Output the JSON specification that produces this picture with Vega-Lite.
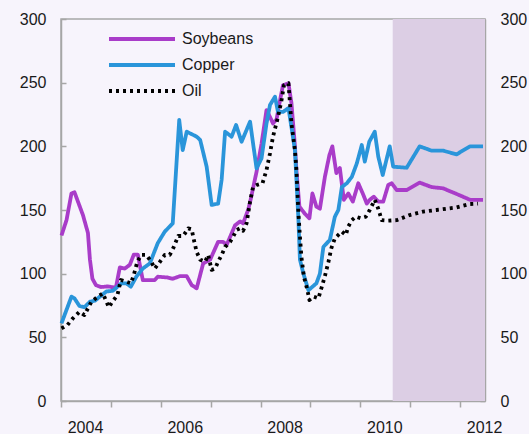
{
  "$schema": "https://vega.github.io/schema/vega-lite/v6.json",
  "width": 424,
  "height": 382,
  "autosize": {"type": "none"},
  "padding": {"left": 61, "top": 19, "right": 44, "bottom": 33},
  "background": "#F7F4FC",
  "config": {
    "font": "Liberation Sans",
    "view": {"stroke": "#A6A6A6", "strokeWidth": 1.5, "fill": "#F7F4FC"},
    "axis": {
      "grid": false,
      "domainColor": "#A6A6A6",
      "domainWidth": 1.5,
      "tickColor": "#A6A6A6",
      "tickWidth": 1.5,
      "labelFont": "Liberation Sans",
      "labelFontSize": 16,
      "labelColor": "#1a1a1a",
      "zindex": 1
    }
  },
  "datasets": {
    "shade": [{"start": 2010.65, "end": 2012.5}],
    "prices": [
      {"s":"Soybeans","t":2004.01,"v":130},{"s":"Soybeans","t":2004.11,"v":142},{"s":"Soybeans","t":2004.21,"v":163},{"s":"Soybeans","t":2004.27,"v":164},{"s":"Soybeans","t":2004.44,"v":146},{"s":"Soybeans","t":2004.54,"v":132},{"s":"Soybeans","t":2004.58,"v":111},{"s":"Soybeans","t":2004.63,"v":96},{"s":"Soybeans","t":2004.70,"v":91},{"s":"Soybeans","t":2004.80,"v":89.5},{"s":"Soybeans","t":2004.94,"v":90},{"s":"Soybeans","t":2005.10,"v":89},{"s":"Soybeans","t":2005.18,"v":105},{"s":"Soybeans","t":2005.28,"v":104},{"s":"Soybeans","t":2005.38,"v":107},{"s":"Soybeans","t":2005.46,"v":115},{"s":"Soybeans","t":2005.54,"v":115},{"s":"Soybeans","t":2005.64,"v":95},{"s":"Soybeans","t":2005.88,"v":95},{"s":"Soybeans","t":2005.94,"v":97.6},{"s":"Soybeans","t":2006.14,"v":97},{"s":"Soybeans","t":2006.24,"v":96},{"s":"Soybeans","t":2006.38,"v":98},{"s":"Soybeans","t":2006.52,"v":98},{"s":"Soybeans","t":2006.62,"v":91},{"s":"Soybeans","t":2006.72,"v":88.5},{"s":"Soybeans","t":2006.85,"v":108},{"s":"Soybeans","t":2006.99,"v":111},{"s":"Soybeans","t":2007.15,"v":125},{"s":"Soybeans","t":2007.25,"v":125},{"s":"Soybeans","t":2007.32,"v":122.5},{"s":"Soybeans","t":2007.49,"v":138},{"s":"Soybeans","t":2007.59,"v":141},{"s":"Soybeans","t":2007.65,"v":139.5},{"s":"Soybeans","t":2007.75,"v":150},{"s":"Soybeans","t":2007.79,"v":156},{"s":"Soybeans","t":2007.92,"v":180},{"s":"Soybeans","t":2008.02,"v":202},{"s":"Soybeans","t":2008.12,"v":228.5},{"s":"Soybeans","t":2008.19,"v":223},{"s":"Soybeans","t":2008.25,"v":218},{"s":"Soybeans","t":2008.32,"v":221},{"s":"Soybeans","t":2008.39,"v":236},{"s":"Soybeans","t":2008.45,"v":248},{"s":"Soybeans","t":2008.56,"v":249.5},{"s":"Soybeans","t":2008.62,"v":234},{"s":"Soybeans","t":2008.69,"v":200},{"s":"Soybeans","t":2008.72,"v":181},{"s":"Soybeans","t":2008.78,"v":152.6},{"s":"Soybeans","t":2008.89,"v":147},{"s":"Soybeans","t":2008.98,"v":143.5},{"s":"Soybeans","t":2009.04,"v":163},{"s":"Soybeans","t":2009.12,"v":152.6},{"s":"Soybeans","t":2009.19,"v":151},{"s":"Soybeans","t":2009.29,"v":176},{"s":"Soybeans","t":2009.38,"v":193},{"s":"Soybeans","t":2009.44,"v":200},{"s":"Soybeans","t":2009.52,"v":179},{"s":"Soybeans","t":2009.59,"v":183},{"s":"Soybeans","t":2009.67,"v":158},{"s":"Soybeans","t":2009.76,"v":163},{"s":"Soybeans","t":2009.85,"v":156.6},{"s":"Soybeans","t":2009.96,"v":171},{"s":"Soybeans","t":2010.06,"v":162},{"s":"Soybeans","t":2010.13,"v":155},{"s":"Soybeans","t":2010.19,"v":158},{"s":"Soybeans","t":2010.27,"v":160.5},{"s":"Soybeans","t":2010.36,"v":156.6},{"s":"Soybeans","t":2010.46,"v":156.6},{"s":"Soybeans","t":2010.56,"v":169.6},{"s":"Soybeans","t":2010.63,"v":171},{"s":"Soybeans","t":2010.73,"v":165.7},{"s":"Soybeans","t":2010.93,"v":165.7},{"s":"Soybeans","t":2011.19,"v":171.5},{"s":"Soybeans","t":2011.43,"v":168},{"s":"Soybeans","t":2011.66,"v":167},{"s":"Soybeans","t":2011.93,"v":162.6},{"s":"Soybeans","t":2012.20,"v":158},{"s":"Soybeans","t":2012.46,"v":158},
      {"s":"Copper","t":2004.01,"v":61},{"s":"Copper","t":2004.11,"v":71.5},{"s":"Copper","t":2004.21,"v":82},{"s":"Copper","t":2004.27,"v":80.6},{"s":"Copper","t":2004.37,"v":74.6},{"s":"Copper","t":2004.47,"v":73.6},{"s":"Copper","t":2004.58,"v":78},{"s":"Copper","t":2004.68,"v":78.8},{"s":"Copper","t":2004.78,"v":82},{"s":"Copper","t":2004.91,"v":86},{"s":"Copper","t":2005.04,"v":86.6},{"s":"Copper","t":2005.21,"v":92.4},{"s":"Copper","t":2005.31,"v":92.4},{"s":"Copper","t":2005.40,"v":89.8},{"s":"Copper","t":2005.51,"v":97.6},{"s":"Copper","t":2005.64,"v":104},{"s":"Copper","t":2005.78,"v":108},{"s":"Copper","t":2005.94,"v":124},{"s":"Copper","t":2006.08,"v":133},{"s":"Copper","t":2006.24,"v":139.5},{"s":"Copper","t":2006.37,"v":220.7},{"s":"Copper","t":2006.44,"v":197},{"s":"Copper","t":2006.52,"v":211.5},{"s":"Copper","t":2006.72,"v":207.6},{"s":"Copper","t":2006.79,"v":205},{"s":"Copper","t":2006.92,"v":184},{"s":"Copper","t":2007.02,"v":154},{"s":"Copper","t":2007.15,"v":155},{"s":"Copper","t":2007.22,"v":173.6},{"s":"Copper","t":2007.29,"v":211.5},{"s":"Copper","t":2007.42,"v":207.6},{"s":"Copper","t":2007.51,"v":216.8},{"s":"Copper","t":2007.62,"v":203.6},{"s":"Copper","t":2007.79,"v":219.4},{"s":"Copper","t":2007.92,"v":182.7},{"s":"Copper","t":2008.02,"v":190.6},{"s":"Copper","t":2008.12,"v":218},{"s":"Copper","t":2008.19,"v":232.5},{"s":"Copper","t":2008.29,"v":239},{"s":"Copper","t":2008.35,"v":227},{"s":"Copper","t":2008.45,"v":227},{"s":"Copper","t":2008.56,"v":230},{"s":"Copper","t":2008.62,"v":215},{"s":"Copper","t":2008.69,"v":197},{"s":"Copper","t":2008.76,"v":142},{"s":"Copper","t":2008.79,"v":111},{"s":"Copper","t":2008.86,"v":100},{"s":"Copper","t":2008.96,"v":87},{"s":"Copper","t":2009.12,"v":92.4},{"s":"Copper","t":2009.19,"v":100},{"s":"Copper","t":2009.26,"v":121},{"s":"Copper","t":2009.39,"v":126.5},{"s":"Copper","t":2009.49,"v":144.7},{"s":"Copper","t":2009.56,"v":150},{"s":"Copper","t":2009.63,"v":168},{"s":"Copper","t":2009.73,"v":171},{"s":"Copper","t":2009.83,"v":176},{"s":"Copper","t":2009.93,"v":186.6},{"s":"Copper","t":2010.03,"v":201},{"s":"Copper","t":2010.09,"v":188},{"s":"Copper","t":2010.18,"v":203.6},{"s":"Copper","t":2010.29,"v":211.5},{"s":"Copper","t":2010.36,"v":192},{"s":"Copper","t":2010.45,"v":177.5},{"s":"Copper","t":2010.59,"v":200},{"s":"Copper","t":2010.66,"v":184},{"s":"Copper","t":2010.93,"v":183.2},{"s":"Copper","t":2011.19,"v":200},{"s":"Copper","t":2011.43,"v":196.6},{"s":"Copper","t":2011.66,"v":196.6},{"s":"Copper","t":2011.93,"v":193.7},{"s":"Copper","t":2012.20,"v":200},{"s":"Copper","t":2012.46,"v":200},
      {"s":"Oil","t":2004.01,"v":57},{"s":"Oil","t":2004.13,"v":59.7},{"s":"Oil","t":2004.24,"v":65},{"s":"Oil","t":2004.37,"v":70},{"s":"Oil","t":2004.47,"v":67.5},{"s":"Oil","t":2004.61,"v":78},{"s":"Oil","t":2004.74,"v":82},{"s":"Oil","t":2004.84,"v":84.5},{"s":"Oil","t":2004.91,"v":78},{"s":"Oil","t":2004.96,"v":73.6},{"s":"Oil","t":2005.03,"v":78},{"s":"Oil","t":2005.13,"v":83},{"s":"Oil","t":2005.20,"v":95},{"s":"Oil","t":2005.31,"v":93.7},{"s":"Oil","t":2005.40,"v":92.4},{"s":"Oil","t":2005.46,"v":99},{"s":"Oil","t":2005.53,"v":109.4},{"s":"Oil","t":2005.61,"v":114.7},{"s":"Oil","t":2005.71,"v":114.7},{"s":"Oil","t":2005.81,"v":109.4},{"s":"Oil","t":2005.88,"v":104},{"s":"Oil","t":2005.97,"v":108.6},{"s":"Oil","t":2006.08,"v":114.7},{"s":"Oil","t":2006.18,"v":114.7},{"s":"Oil","t":2006.25,"v":120},{"s":"Oil","t":2006.35,"v":129.6},{"s":"Oil","t":2006.45,"v":129.6},{"s":"Oil","t":2006.55,"v":135.6},{"s":"Oil","t":2006.62,"v":134.8},{"s":"Oil","t":2006.65,"v":129},{"s":"Oil","t":2006.72,"v":117},{"s":"Oil","t":2006.79,"v":111},{"s":"Oil","t":2006.89,"v":109.4},{"s":"Oil","t":2006.95,"v":114.7},{"s":"Oil","t":2007.02,"v":103},{"s":"Oil","t":2007.09,"v":104},{"s":"Oil","t":2007.15,"v":109.4},{"s":"Oil","t":2007.22,"v":114.7},{"s":"Oil","t":2007.29,"v":121},{"s":"Oil","t":2007.39,"v":125},{"s":"Oil","t":2007.45,"v":129},{"s":"Oil","t":2007.52,"v":134.3},{"s":"Oil","t":2007.59,"v":135.6},{"s":"Oil","t":2007.65,"v":133.7},{"s":"Oil","t":2007.72,"v":139.5},{"s":"Oil","t":2007.79,"v":156.6},{"s":"Oil","t":2007.85,"v":168},{"s":"Oil","t":2007.92,"v":169.6},{"s":"Oil","t":2008.04,"v":171},{"s":"Oil","t":2008.12,"v":181.4},{"s":"Oil","t":2008.19,"v":194.5},{"s":"Oil","t":2008.25,"v":207.6},{"s":"Oil","t":2008.31,"v":216.8},{"s":"Oil","t":2008.35,"v":223},{"s":"Oil","t":2008.42,"v":236},{"s":"Oil","t":2008.47,"v":248},{"s":"Oil","t":2008.56,"v":249.5},{"s":"Oil","t":2008.59,"v":233.8},{"s":"Oil","t":2008.62,"v":218},{"s":"Oil","t":2008.69,"v":197},{"s":"Oil","t":2008.72,"v":181.4},{"s":"Oil","t":2008.76,"v":147.4},{"s":"Oil","t":2008.79,"v":129},{"s":"Oil","t":2008.82,"v":113},{"s":"Oil","t":2008.87,"v":97.6},{"s":"Oil","t":2008.94,"v":87},{"s":"Oil","t":2008.98,"v":79.3},{"s":"Oil","t":2009.06,"v":82},{"s":"Oil","t":2009.16,"v":80.6},{"s":"Oil","t":2009.22,"v":88.5},{"s":"Oil","t":2009.29,"v":98},{"s":"Oil","t":2009.36,"v":109},{"s":"Oil","t":2009.42,"v":120},{"s":"Oil","t":2009.49,"v":127.8},{"s":"Oil","t":2009.56,"v":130.4},{"s":"Oil","t":2009.63,"v":133},{"s":"Oil","t":2009.71,"v":130.4},{"s":"Oil","t":2009.76,"v":137},{"s":"Oil","t":2009.83,"v":142},{"s":"Oil","t":2009.91,"v":144.7},{"s":"Oil","t":2010.01,"v":143.5},{"s":"Oil","t":2010.11,"v":144.7},{"s":"Oil","t":2010.19,"v":150},{"s":"Oil","t":2010.29,"v":158},{"s":"Oil","t":2010.36,"v":151},{"s":"Oil","t":2010.43,"v":142},{"s":"Oil","t":2010.56,"v":141.6},{"s":"Oil","t":2010.73,"v":142},{"s":"Oil","t":2010.99,"v":146},{"s":"Oil","t":2011.26,"v":148.7},{"s":"Oil","t":2011.53,"v":150},{"s":"Oil","t":2011.93,"v":152},{"s":"Oil","t":2012.20,"v":154.7},{"s":"Oil","t":2012.36,"v":155}
    ]
  },
  "layer": [
    {
      "data": {"name": "shade"},
      "mark": {"type": "rect", "color": "#DCCEE4"},
      "encoding": {
        "x": {"field": "start", "type": "quantitative", "scale": {"domain": [2004, 2012.5], "nice": false, "zero": false},
              "axis": {"title": null, "orient": "bottom", "values": [2004,2005,2006,2007,2008,2009,2010,2011,2012], "labelExpr": "datum.value % 2 == 0 ? datum.value + '' : ''", "labelOffset": 24, "labelOverlap": false, "labelFlush": false, "tickSize": 6, "labelPadding": 12}},
        "x2": {"field": "end"},
        "y": {"datum": 0, "type": "quantitative", "scale": {"domain": [0, 300], "nice": false},
              "axis": {"title": null, "orient": "right", "values": [0,50,100,150,200,250,300], "tickSize": -5, "labelPadding": 20}},
        "y2": {"datum": 300}
      }
    },
    {
      "data": {"name": "prices"},
      "mark": {"type": "line", "strokeWidth": 3.8, "strokeJoin": "round"},
      "encoding": {
        "x": {"field": "t", "type": "quantitative", "scale": {"domain": [2004, 2012.5], "nice": false, "zero": false},
              "axis": {"title": null, "orient": "bottom", "values": [2004,2005,2006,2007,2008,2009,2010,2011,2012], "labelExpr": "datum.value % 2 == 0 ? datum.value + '' : ''", "labelOffset": 24, "labelOverlap": false, "labelFlush": false, "tickSize": 6, "labelPadding": 12}},
        "y": {"field": "v", "type": "quantitative", "scale": {"domain": [0, 300], "nice": false},
              "axis": {"title": null, "orient": "left", "values": [0,50,100,150,200,250,300], "tickSize": -5, "labelPadding": 20}},
        "color": {"field": "s", "type": "nominal",
                  "scale": {"domain": ["Soybeans", "Copper", "Oil"], "range": ["#A93CC9", "#2A95DA", "#000000"]},
                  "legend": {"title": null, "orient": "none", "legendX": 46, "legendY": 12, "symbolType": "stroke", "symbolSize": 4356, "symbolStrokeWidth": 4, "clipHeight": 16, "rowPadding": 10, "labelOffset": 5, "labelFontSize": 16, "labelFont": "Liberation Sans", "labelColor": "#1a1a1a"}},
        "strokeDash": {"field": "s", "type": "nominal",
                  "scale": {"domain": ["Soybeans", "Copper", "Oil"], "range": [[1, 0], [1, 0], [3, 4]]},
                  "legend": {"title": null, "orient": "none", "legendX": 46, "legendY": 12, "symbolType": "stroke", "symbolSize": 4356, "symbolStrokeWidth": 4, "clipHeight": 16, "rowPadding": 10, "labelOffset": 5, "labelFontSize": 16, "labelFont": "Liberation Sans", "labelColor": "#1a1a1a"}}
      }
    }
  ],
  "resolve": {"axis": {"y": "independent"}}
}
